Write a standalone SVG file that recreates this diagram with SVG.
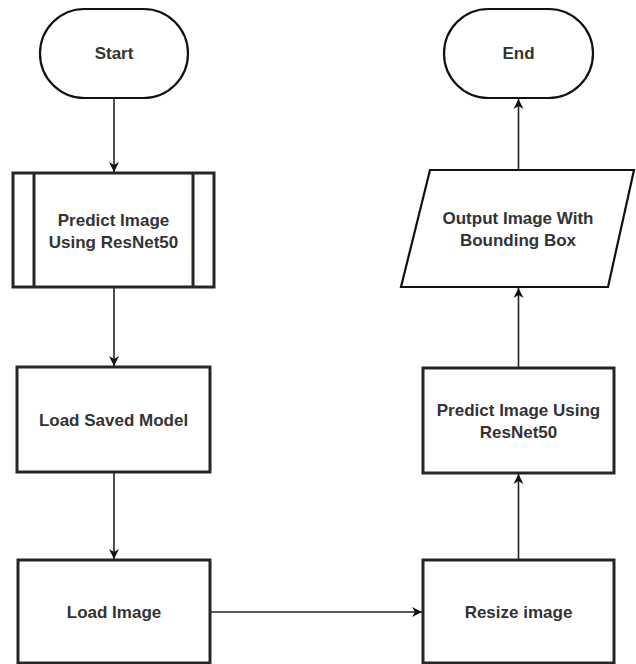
<svg xmlns="http://www.w3.org/2000/svg" width="636" height="664" viewBox="0 0 636 664">
  <style>
    .term { fill: #ffffff; stroke: #111111; stroke-width: 2.2; }
    .box { fill: #ffffff; stroke: #262626; stroke-width: 3; }
    .lbl { font-family: "Liberation Sans", Arial, sans-serif; font-size: 17px; font-weight: bold; fill: #333333; text-anchor: middle; dominant-baseline: central; }
    .conn { fill: none; stroke: #222222; stroke-width: 1.6; }
  </style>
  <defs>
    <marker id="arrow" markerUnits="userSpaceOnUse" markerWidth="12" markerHeight="12" refX="11" refY="6" orient="auto">
      <path d="M1,1 L11,6 L1,11 L4,6 Z" fill="#111111"/>
    </marker>
  </defs>
  <rect width="636" height="664" fill="#ffffff"/>

  <g id="connectors">
    <line class="conn" x1="114" y1="98" x2="114" y2="172" marker-end="url(#arrow)"/>
    <line class="conn" x1="114" y1="287" x2="114" y2="366" marker-end="url(#arrow)"/>
    <line class="conn" x1="114" y1="472" x2="114" y2="559" marker-end="url(#arrow)"/>
    <line class="conn" x1="210" y1="612" x2="422" y2="612" stroke="#444444" stroke-width="2.2" marker-end="url(#arrow)"/>
    <line class="conn" x1="518.5" y1="560" x2="518.5" y2="474" marker-end="url(#arrow)"/>
    <line class="conn" x1="518.5" y1="368" x2="518.5" y2="288" marker-end="url(#arrow)"/>
    <line class="conn" x1="518.5" y1="170" x2="518.5" y2="99" marker-end="url(#arrow)"/>
  </g>

  <g id="start">
    <rect class="term" x="40" y="9" width="148" height="89" rx="44.5" ry="44.5"/>
    <text class="lbl" x="114" y="53.5">Start</text>
  </g>

  <g id="predict-sub">
    <rect class="box" x="13" y="173" width="201" height="114"/>
    <line class="box" x1="34" y1="173" x2="34" y2="287"/>
    <line class="box" x1="193" y1="173" x2="193" y2="287"/>
    <text class="lbl" x="113.5" y="220">Predict Image</text>
    <text class="lbl" x="113.5" y="242">Using ResNet50</text>
  </g>

  <g id="load-saved-model">
    <rect class="box" x="17" y="367" width="193" height="105"/>
    <text class="lbl" x="113.5" y="420">Load Saved Model</text>
  </g>

  <g id="load-image">
    <rect class="box" x="18" y="560" width="192" height="103"/>
    <text class="lbl" x="114" y="612">Load Image</text>
  </g>

  <g id="resize-image">
    <rect class="box" x="423" y="560" width="191" height="103"/>
    <text class="lbl" x="518.5" y="612">Resize image</text>
  </g>

  <g id="predict-resnet">
    <rect class="box" x="423" y="368" width="191" height="105"/>
    <text class="lbl" x="518.5" y="410">Predict Image Using</text>
    <text class="lbl" x="518.5" y="432">ResNet50</text>
  </g>

  <g id="output-image">
    <polygon class="term" points="430,170 634,170 608,287 401,287"/>
    <text class="lbl" x="518" y="218">Output Image With</text>
    <text class="lbl" x="518" y="240">Bounding Box</text>
  </g>

  <g id="end">
    <rect class="term" x="444" y="9" width="149" height="89" rx="44.5" ry="44.5"/>
    <text class="lbl" x="518.5" y="53.5">End</text>
  </g>
</svg>
